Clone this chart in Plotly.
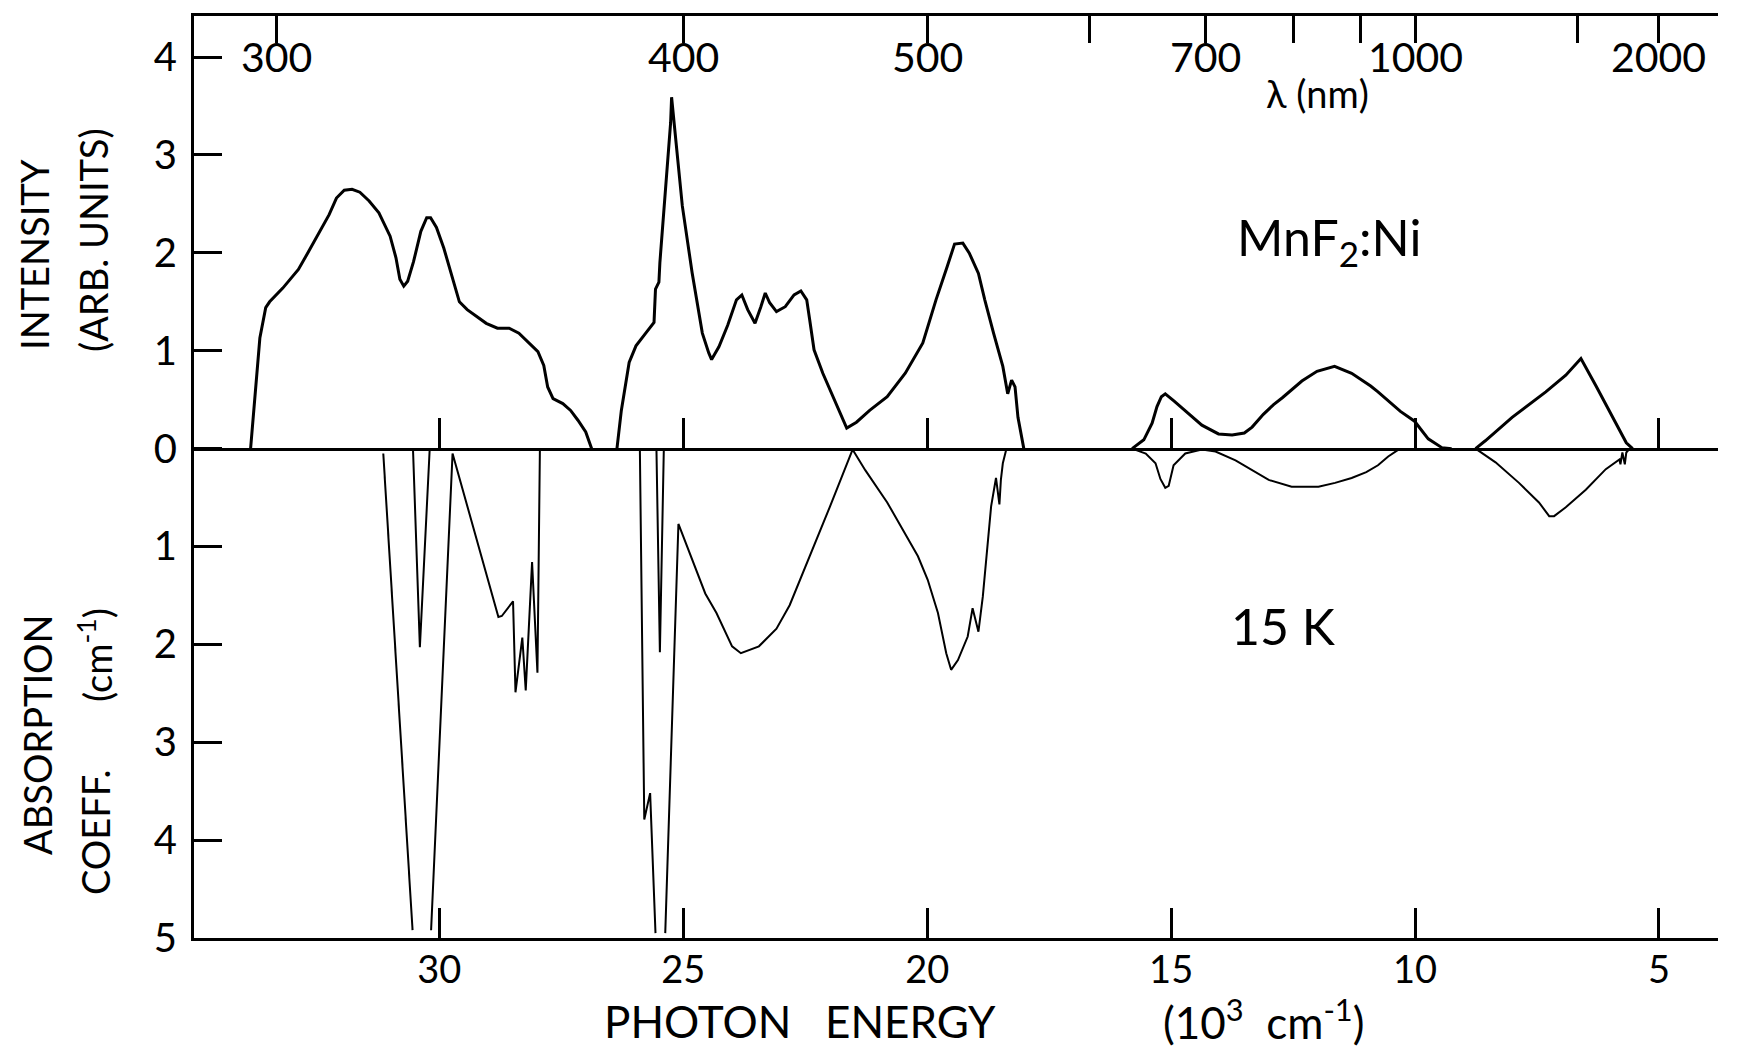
import plotly.graph_objects as go

# ---------------- data (photon energy in 10^3 cm^-1) ----------------
# Emission (intensity, arb. units), separate pen strokes split by None
emission_energy = [
    33.87, 33.79, 33.68, 33.56, 33.48, 33.21, 32.89, 32.73, 32.50, 32.26, 32.11, 31.95, 31.79,
    31.63, 31.44, 31.24, 31.01, 30.89, 30.81, 30.73, 30.65, 30.53, 30.38, 30.26, 30.18, 30.06,
    29.91, 29.75, 29.59, 29.43, 29.24, 29.04, 28.81, 28.57, 28.37, 28.18, 27.98, 27.86, 27.78,
    27.67, 27.47, 27.31, 27.16, 27.00, 26.88, None,
    26.36, 26.27, 26.11, 25.97, 25.77, 25.60, 25.57, 25.50, 25.48, 25.36, 25.26, 25.24, 25.19,
    25.02, 24.82, 24.61, 24.48, 24.42, 24.27, 24.09, 23.91, 23.80, 23.68, 23.53, 23.41, 23.32,
    23.23, 23.09, 22.91, 22.73, 22.59, 22.47, 22.41, 22.32, 22.14, 21.91, 21.65, 21.45, 21.18,
    20.82, 20.45, 20.09, 19.82, 19.59, 19.44, 19.27, 19.14, 18.95, 18.82, 18.64, 18.45, 18.35,
    18.27, 18.20, 18.14, 18.02, None,
    15.80, 15.56, 15.39, 15.29, 15.20, 15.12, 14.95, 14.71, 14.37, 14.03, 13.75, 13.50, 13.34,
    13.11, 12.90, 12.72, 12.32, 12.01, 11.65, 11.30, 10.91, 10.76, 10.51, 10.30, 10.01, 9.73,
    9.45, 9.25, None,
    8.76, 8.56, 8.01, 7.32, 6.91, 6.60, 6.29, 5.95, 5.67, 5.54,
]
emission_intensity = [
    0.00, 0.51, 1.13, 1.44, 1.50, 1.64, 1.83, 1.97, 2.17, 2.39, 2.56, 2.64, 2.65,
    2.62, 2.53, 2.41, 2.17, 1.95, 1.73, 1.66, 1.71, 1.91, 2.22, 2.36, 2.36, 2.26,
    2.05, 1.78, 1.50, 1.42, 1.35, 1.28, 1.23, 1.23, 1.18, 1.09, 0.99, 0.85, 0.63,
    0.51, 0.46, 0.39, 0.29, 0.17, 0.00, None,
    0.00, 0.39, 0.88, 1.05, 1.18, 1.29, 1.63, 1.70, 1.90, 2.65, 3.33, 3.59, 3.33,
    2.48, 1.80, 1.18, 0.98, 0.91, 1.04, 1.26, 1.52, 1.57, 1.42, 1.28, 1.45, 1.59,
    1.49, 1.40, 1.45, 1.57, 1.61, 1.52, 1.32, 1.01, 0.77, 0.50, 0.21, 0.27, 0.39,
    0.53, 0.77, 1.08, 1.52, 1.86, 2.09, 2.10, 2.00, 1.79, 1.52, 1.18, 0.84, 0.56,
    0.70, 0.63, 0.32, 0.00, None,
    0.00, 0.09, 0.26, 0.43, 0.53, 0.56, 0.49, 0.39, 0.24, 0.15, 0.14, 0.16, 0.22,
    0.35, 0.45, 0.52, 0.69, 0.79, 0.84, 0.77, 0.64, 0.58, 0.47, 0.38, 0.28, 0.10,
    0.01, 0.00, None,
    0.00, 0.08, 0.32, 0.58, 0.75, 0.92, 0.64, 0.33, 0.06, 0.00,
]

# Absorption coefficient (cm^-1), plotted downward
absorption_energy = [
    31.15, 30.55, None,
    30.54, 30.40, 30.20, None,
    30.17, 29.73, 28.79, 28.72, 28.49, 28.44, 28.30, 28.23, 28.10, 27.99, 27.94, None,
    25.89, 25.80, 25.68, 25.57, None,
    25.55, 25.48, 25.40, None,
    25.37, 25.10, 24.55, 24.32, 24.00, 23.82, 23.45, 23.09, 22.82, 22.45, 22.00, 21.53,
    21.27, 20.82, 20.45, 20.19, 19.99, 19.78, 19.61, 19.51, 19.37, 19.17, 19.07, 18.95,
    18.86, 18.76, 18.69, 18.59, 18.52, 18.49, 18.45, 18.38, None,
    15.80, 15.52, 15.32, 15.22, 15.12, 15.05, 14.95, 14.71, 14.37, 14.09, 13.68, 13.34,
    13.00, 12.53, 11.98, 11.64, 11.30, 11.00, 10.76, 10.55, 10.34, None,
    8.73, 8.35, 7.87, 7.46, 7.25, 7.15, 6.91, 6.50, 6.09, 5.81, 5.79, 5.75, 5.70, 5.67, 5.60,
]
absorption_coeff = [
    0.05, 4.92, None,
    0.02, 2.03, 0.02, None,
    4.92, 0.05, 1.72, 1.71, 1.56, 2.49, 1.93, 2.47, 1.16, 2.29, 0.02, None,
    0.02, 3.79, 3.52, 4.95, None,
    0.02, 2.08, 0.02, None,
    4.95, 0.77, 1.48, 1.68, 2.02, 2.09, 2.02, 1.84, 1.60, 1.15, 0.60, 0.01,
    0.22, 0.55, 0.88, 1.10, 1.34, 1.68, 2.09, 2.26, 2.16, 1.92, 1.63, 1.87,
    1.51, 0.93, 0.59, 0.30, 0.57, 0.32, 0.15, 0.01, None,
    0.00, 0.05, 0.15, 0.31, 0.40, 0.38, 0.17, 0.05, 0.01, 0.03, 0.12, 0.22,
    0.32, 0.39, 0.39, 0.35, 0.30, 0.24, 0.17, 0.08, 0.01, None,
    0.01, 0.14, 0.35, 0.55, 0.69, 0.69, 0.60, 0.42, 0.21, 0.11, 0.16, 0.04, 0.16, 0.04, 0.00,
]

energy_ticks = [30, 25, 20, 15, 10, 5]
energy_labels = ["30", "25", "20", "15", "10", "5"]
wavelength_ticks_nm = [300, 400, 500, 600, 700, 800, 900, 1000, 1500, 2000]
wavelength_labeled_nm = [300, 400, 500, 700, 1000, 2000]
y_ticks = [4, 3, 2, 1, 0, -1, -2, -3, -4, -5]
y_labels = ["4", "3", "2", "1", "0", "1", "2", "3", "4", "5"]

# ---------------- figure ----------------
FONT = "Lato"
X_RANGE = [35.03, 3.79]
Y_RANGE = [-5.0, 4.42]

fig = go.Figure()
fig.add_trace(go.Scatter(
    x=emission_energy, y=emission_intensity, mode="lines",
    line=dict(color="black", width=3), connectgaps=False, hoverinfo="skip"))
fig.add_trace(go.Scatter(
    x=absorption_energy, y=[None if v is None else -v for v in absorption_coeff],
    mode="lines", line=dict(color="black", width=2), connectgaps=False, hoverinfo="skip"))
# helper traces so the extra axes are drawn
fig.add_trace(go.Scatter(x=[20], y=[0], xaxis="x2", mode="lines", hoverinfo="skip"))
fig.add_trace(go.Scatter(x=[20], y=[0], xaxis="x3", mode="lines", hoverinfo="skip"))

wl_pos = [1e4 / w for w in wavelength_ticks_nm]
zero_pos = (0 - Y_RANGE[0]) / (Y_RANGE[1] - Y_RANGE[0])

fig.update_layout(
    width=1753, height=1053,
    margin=dict(l=194, r=35, t=16, b=115),
    paper_bgcolor="white", plot_bgcolor="white",
    showlegend=False,
    font=dict(family=FONT, color="black"),
    xaxis=dict(
        range=X_RANGE, showgrid=False, zeroline=False,
        showline=True, linecolor="black", linewidth=3,
        ticks="inside", ticklen=30, tickwidth=3, tickcolor="black",
        tickvals=energy_ticks, ticktext=energy_labels,
        tickfont=dict(size=38, family=FONT), ticklabelstandoff=-4,
    ),
    xaxis2=dict(
        matches="x", overlaying="x", side="top", anchor="y",
        showgrid=False, zeroline=False,
        showline=True, linecolor="black", linewidth=3,
        ticks="inside", ticklen=27, tickwidth=3, tickcolor="black",
        tickvals=wl_pos, showticklabels=False,
    ),
    xaxis3=dict(
        matches="x", overlaying="x", anchor="free", position=zero_pos, side="bottom",
        showgrid=False, zeroline=False,
        showline=True, linecolor="black", linewidth=3,
        ticks="inside", ticklen=30, tickwidth=3, tickcolor="black",
        tickvals=energy_ticks, showticklabels=False,
    ),
    yaxis=dict(
        range=Y_RANGE, showgrid=False, zeroline=False,
        showline=True, linecolor="black", linewidth=3,
        ticks="inside", ticklen=28, tickwidth=3, tickcolor="black",
        tickvals=y_ticks, ticktext=y_labels,
        tickfont=dict(size=40, family=FONT), ticklabelstandoff=6,
    ),
)

def px_x(px):
    return (px - 194) / 1524.0

def px_y(py):
    return (938 - py) / 922.0

# wavelength labels under the top ticks, placed on the energy scale
for w in wavelength_labeled_nm:
    fig.add_annotation(
        text=str(w), x=1e4 / w, y=px_y(57), xref="x", yref="paper",
        showarrow=False, xanchor="center", yanchor="middle",
        font=dict(size=41, family=FONT, color="black"))

ann = [
    ("INTENSITY", 34, 255, 38, -90),
    ("(ARB. UNITS)", 93, 240, 38, -90),
    ("ABSORPTION", 37, 735, 38, -90),
    ("COEFF.", 95, 832, 38, -90),
    ("(cm<sup>-1</sup>)", 95, 655, 38, -90),
    ("MnF<sub>2</sub>:Ni", 1329, 240, 50, 0),
    ("15 K", 1283, 626, 50, 0),
    ("λ (nm)", 1317, 93, 38, 0),
    ("PHOTON&nbsp;&nbsp;&nbsp;ENERGY", 800, 1021, 44, 0),
    ("(10<sup>3</sup>&nbsp;&nbsp;cm<sup>-1</sup>)", 1263, 1019, 44, 0),
]
for text, x, y, size, ang in ann:
    fig.add_annotation(
        text=text, x=px_x(x), y=px_y(y), xref="paper", yref="paper",
        showarrow=False, textangle=ang, xanchor="center", yanchor="middle",
        font=dict(size=size, family=FONT, color="black"))

fig.write_html("out.html")
